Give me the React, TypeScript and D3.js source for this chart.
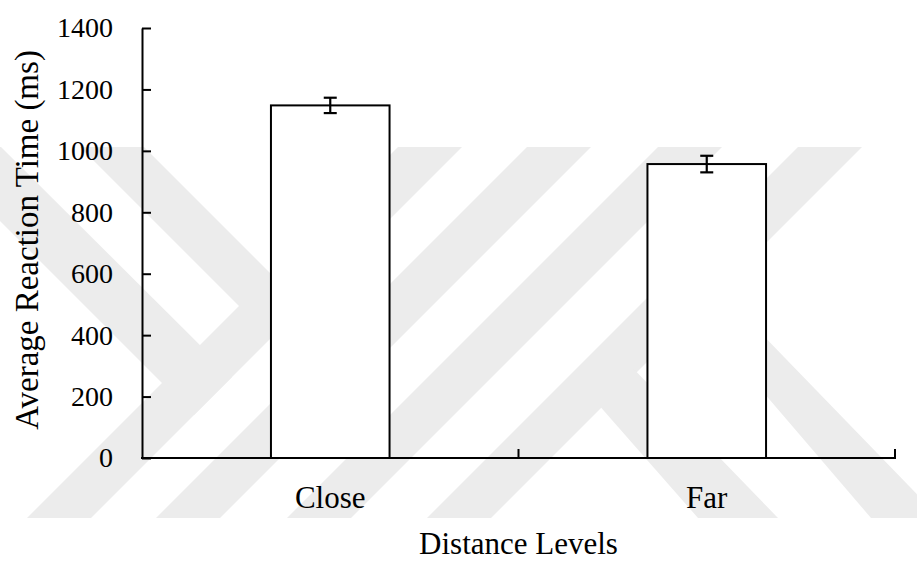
import React, { useEffect, useRef } from "react";
import * as d3 from "d3";

// Mean reaction time per distance condition, with standard error
const categories = ["Close", "Far"];
const meanRT = [1148, 957];
const stdErr = [25, 27];
const yTicks = [0, 200, 400, 600, 800, 1000, 1200, 1400];

const W = 917;
const H = 563;
const margin = { left: 142, right: 22, top: 28, bottom: 105 };

// Faint background emblem: slanted bands, given as [x, y] corner lists
const emblemBands: [number, number][][] = [
  // forward slashes
  ...[398, 527, 658, 798].map((x0) => [
    [x0, 147],
    [x0 + 64, 147],
    [x0 + 64 - 371, 518],
    [x0 - 371, 518],
  ] as [number, number][]),
  // back slashes
  [[80, 147], [144, 147], [327, 330], [263, 330]],
  [[0, 147], [1, 147], [232, 377], [194, 415], [0, 221]],
  [[590, 395], [625, 360], [778, 518], [698, 518]],
  [[710, 330], [758, 330], [940, 518], [871, 518]],
];

export default function App() {
  const ref = useRef<SVGSVGElement | null>(null);

  useEffect(() => {
    const svg = d3.select(ref.current);
    svg.selectAll("*").remove();

    const x0 = margin.left;
    const x1 = W - margin.right;
    const yBase = H - margin.bottom;

    const x = d3
      .scaleBand<string>()
      .domain(categories)
      .range([x0, x1])
      .paddingInner(0.685)
      .paddingOuter(0.3425);

    const y = d3.scaleLinear().domain([0, 1400]).range([yBase, margin.top]);

    svg.append("rect").attr("width", W).attr("height", H).attr("fill", "#ffffff");

    // background emblem
    svg
      .append("g")
      .selectAll("polygon")
      .data(emblemBands)
      .join("polygon")
      .attr("points", (d) => d.map((p) => p.join(",")).join(" "))
      .attr("fill", "#ececec");

    const font = "Liberation Serif, DejaVu Serif, serif";

    // bars
    svg
      .append("g")
      .selectAll("rect")
      .data(categories)
      .join("rect")
      .attr("x", (d) => x(d)!)
      .attr("y", (_, i) => y(meanRT[i]))
      .attr("width", x.bandwidth())
      .attr("height", (_, i) => yBase - y(meanRT[i]))
      .attr("fill", "#ffffff")
      .attr("stroke", "#000")
      .attr("stroke-width", 2);

    // error bars
    const eb = svg.append("g").attr("stroke", "#000").attr("stroke-width", 2.2);
    categories.forEach((c, i) => {
      const cx = x(c)! + x.bandwidth() / 2;
      const top = y(meanRT[i] + stdErr[i]);
      const bot = y(meanRT[i] - stdErr[i]);
      eb.append("line").attr("x1", cx).attr("x2", cx).attr("y1", top).attr("y2", bot);
      eb.append("line").attr("x1", cx - 6.5).attr("x2", cx + 6.5).attr("y1", top).attr("y2", top);
      eb.append("line").attr("x1", cx - 6.5).attr("x2", cx + 6.5).attr("y1", bot).attr("y2", bot);
    });

    // y axis with inward ticks
    const yAxis = d3
      .axisLeft(y)
      .tickValues(yTicks)
      .tickSizeInner(-9)
      .tickSizeOuter(0)
      .tickPadding(29)
      .tickFormat((d) => String(d));
    const gy = svg.append("g").attr("transform", `translate(${x0},0)`).call(yAxis);
    gy.attr("font-family", null);
    gy.select(".domain").attr("stroke", "#000").attr("stroke-width", 2);
    gy.selectAll(".tick line").attr("stroke", "#000").attr("stroke-width", 2);
    gy.selectAll(".tick text")
      .style("font-family", font)
      .attr("font-size", 28)
      .attr("fill", "#000");

    // x axis: baseline with ticks at band boundaries, pointing up
    const gx = svg.append("g");
    gx.append("line")
      .attr("x1", x0 - 1)
      .attr("x2", x1 + 1)
      .attr("y1", yBase)
      .attr("y2", yBase)
      .attr("stroke", "#000")
      .attr("stroke-width", 2);
    const bounds = categories.map((_, i) => x0 + (i + 1) * x.step());
    gx.selectAll("line.bt")
      .data(bounds)
      .join("line")
      .attr("class", "bt")
      .attr("x1", (d) => d)
      .attr("x2", (d) => d)
      .attr("y1", yBase)
      .attr("y2", yBase - 9)
      .attr("stroke", "#000")
      .attr("stroke-width", 2);

    gx.selectAll("text")
      .data(categories)
      .join("text")
      .attr("x", (d) => x(d)! + x.bandwidth() / 2)
      .attr("y", 508)
      .attr("text-anchor", "middle")
      .style("font-family", font)
      .attr("font-size", 31)
      .attr("fill", "#000")
      .text((d) => d);

    // axis titles
    svg
      .append("text")
      .attr("x", (x0 + x1) / 2)
      .attr("y", 554)
      .attr("text-anchor", "middle")
      .style("font-family", font)
      .attr("font-size", 31)
      .attr("fill", "#000")
      .text("Distance Levels");

    svg
      .append("text")
      .attr("transform", `translate(38,${(margin.top + yBase) / 2 - 3}) rotate(-90)`)
      .attr("text-anchor", "middle")
      .style("font-family", font)
      .attr("font-size", 33)
      .attr("fill", "#000")
      .text("Average Reaction Time (ms)");
  }, []);

  return (
    <svg
      ref={ref}
      width={W}
      height={H}
      style={{ position: "absolute", left: 0, top: 0, display: "block" }}
    />
  );
}
